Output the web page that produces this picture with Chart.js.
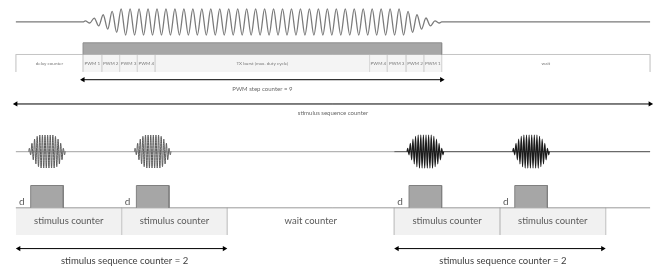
<!DOCTYPE html>
<html>
<head>
<meta charset="utf-8">
<script src="https://cdn.jsdelivr.net/npm/chart.js@4.4.0/dist/chart.umd.min.js"></script>
<style>
    html, body { margin: 0; padding: 0; background: #fff; }
    #wrap { width: 663px; height: 272px; }
</style>
</head>
<body>
<div id="wrap"><canvas id="c"></canvas></div>
<script>
// ---- data: time positions along the diagram ----
const lineStart = 12
const lineEnd = 654
const txCellEdges = [12, 80, 99, 117, 135, 153, 370, 388, 407, 425, 443, 654]
const txCellLabels = ['delay counter', 'PWM 1', 'PWM 2', 'PWM 3', 'PWM 4',
    'TX burst (max. duty cycle)', 'PWM 4', 'PWM 3', 'PWM 2', 'PWM 1', 'wait']
// relative amplitude of every cycle of the long TX burst
const txEnvelope = [
    0.08, 0.3, 0.55, 0.8,
    1, 1, 1, 1, 1, 1, 1, 1, 1, 1, 1, 1, 1, 1, 1, 1,
    1, 1, 1, 1, 1, 1, 1, 1, 1, 1, 1, 1, 1, 1, 1, 1,
    0.8, 0.55, 0.3, 0.08,
]
const pwmStepCounter = 9

const stimStarts = [12, 119, 395, 502]
const stimLength = 107
const stimDelay = 15
const pulseLength = 33
// relative amplitude of every cycle of one stimulus burst
const stimEnvelope = [0.2, 0.5, 0.75, 0.92, 1, 1, 1, 1, 1, 1, 0.92, 0.75, 0.5, 0.2]
const sequenceCounter = 2
const sequenceStarts = [12, 395] // each sequence = 2 stimuli

// ---- layout rows (diagram y, top = 0) ----
const ROW = {
    waveMid: 18.5, waveAmp: 13.5,
    barTop: 40, tableTop: 52, tableBottom: 70,
    pwmArrow: 78, pwmLabel: 88,
    seqArrow: 103, seqLabel: 112,
    burstMid: 152, burstAmp: 17,
    pulseTop: 187, stimTop: 210, stimBottom: 238,
    stimArrow: 252, stimLabel: 265,
}

function wavePoints(x0, x1, env, mid, amp) {
    const pts = []
    const per = (x1 - x0) / env.length
    env.forEach((a, i) => {
        pts.push({ x: x0 + (i + 0.25) * per, y: mid - amp * a })
        pts.push({ x: x0 + (i + 0.75) * per, y: mid + amp * a })
    })
    return pts
}

const line = (data, color, width = 1, extra = {}) => ({
    data, borderColor: color, borderWidth: width, pointRadius: 0,
    tension: 0, fill: false, clip: false, ...extra,
})

// outlined box sitting on `base`, filled down to it
const box = (x0, x1, top, base, fillColor, edge, width = 1) => line(
    [{ x: x0, y: base }, { x: x0, y: top }, { x: x1, y: top }, { x: x1, y: base }],
    edge, width, { fill: { value: base }, backgroundColor: fillColor })

const arrow = (x0, x1, y) => line([{ x: x0, y }, { x: x1, y }], '#000', 1, {
    pointRadius: 3, pointStyle: 'triangle', pointRotation: [270, 90],
    pointBackgroundColor: '#000', pointBorderWidth: 0,
})

// separators as one broken line
const separators = (edges, y0, y1) => {
    const pts = []
    edges.forEach(e => pts.push({ x: e, y: y0 }, { x: e, y: y1 }, { x: e, y: null }))
    return pts
}

const txStart = txCellEdges[1]
const txEnd = txCellEdges[txCellEdges.length - 2]

const datasets = []

// top TX waveform
datasets.push(line([
    { x: lineStart, y: ROW.waveMid },
    { x: txStart, y: ROW.waveMid },
    ...wavePoints(txStart, txEnd, txEnvelope, ROW.waveMid, ROW.waveAmp),
    { x: txEnd, y: ROW.waveMid },
    { x: lineEnd, y: ROW.waveMid },
], '#7a7a7a', 1.3, { cubicInterpolationMode: 'monotone' }))

// arrows
datasets.push(arrow(txStart, txEnd, ROW.pwmArrow))
datasets.push(arrow(lineStart, lineEnd, ROW.seqArrow))
sequenceStarts.forEach(s => datasets.push(arrow(s + 3, s + stimLength * sequenceCounter - 3, ROW.stimArrow)))

// stimulus bursts
stimStarts.forEach((s, i) => {
    const p0 = s + stimDelay - 2
    const p1 = s + stimDelay + pulseLength + 2
    const dark = i >= sequenceCounter
    datasets.push(line([
        { x: p0, y: ROW.burstMid },
        ...wavePoints(p0, p1, stimEnvelope, ROW.burstMid, ROW.burstAmp),
        { x: p1, y: ROW.burstMid },
    ], dark ? '#1c1c1c' : '#5a5a5a', dark ? 1.2 : 1, { cubicInterpolationMode: 'monotone' }))
})

// pulses (d = delay before each)
stimStarts.forEach(s => datasets.push(
    box(s + stimDelay, s + stimDelay + pulseLength, ROW.pulseTop, ROW.stimTop, '#a6a6a6', '#808080')))

// baselines of the stimulus rows
datasets.push(line([{ x: sequenceStarts[1], y: ROW.burstMid }, { x: lineEnd, y: ROW.burstMid }], '#6a6a6a', 1.3))
datasets.push(line([{ x: lineStart, y: ROW.burstMid }, { x: sequenceStarts[1], y: ROW.burstMid }], '#b4b4b4', 1.3))
datasets.push(line([{ x: lineStart, y: ROW.stimTop }, { x: lineEnd, y: ROW.stimTop }], '#9a9a9a', 1))

// stimulus counter cells
const stimEdges = []
stimStarts.forEach(s => stimEdges.push(s, s + stimLength))
datasets.push(line(separators(stimEdges.slice(1), ROW.stimTop, ROW.stimBottom), '#cfcfcf', 1))
stimStarts.forEach(s => datasets.push(
    line([{ x: s, y: ROW.stimTop }, { x: s + stimLength, y: ROW.stimTop }], 'rgba(0,0,0,0)', 0,
        { fill: { value: ROW.stimBottom }, backgroundColor: '#f1f1f1' })))

// top table
datasets.push(box(txStart, txEnd, ROW.barTop, ROW.tableTop, '#a6a6a6', '#8e8e8e'))
datasets.push(line([{ x: lineStart, y: ROW.tableTop }, { x: lineEnd, y: ROW.tableTop }], '#c4c4c4', 1))
datasets.push(line(separators(txCellEdges, ROW.tableTop, ROW.tableBottom), '#dadada', 1))
datasets.push(line([{ x: txStart, y: ROW.tableTop }, { x: txEnd, y: ROW.tableTop }], 'rgba(0,0,0,0)', 0,
    { fill: { value: ROW.tableBottom }, backgroundColor: '#f4f4f4' }))

// ---- texts, placed from the data above ----
const texts = []
txCellLabels.forEach((t, i) => texts.push({
    text: t, x: (txCellEdges[i] + txCellEdges[i + 1]) / 2, y: (ROW.tableTop + ROW.tableBottom) / 2,
    size: 4.6, color: '#7a7a7a',
}))
texts.push({ text: `PWM step counter = ${pwmStepCounter}`, x: (txStart + txEnd) / 2, y: ROW.pwmLabel, size: 6, color: '#6a6a6a' })
texts.push({ text: 'stimulus sequence counter', x: (lineStart + lineEnd) / 2, y: ROW.seqLabel, size: 6, color: '#6a6a6a' })
stimStarts.forEach(s => {
    texts.push({ text: 'stimulus counter', x: s + stimLength / 2, y: (ROW.stimTop + ROW.stimBottom) / 2, size: 9.5, color: '#595959' })
    texts.push({ text: 'd', x: s + stimDelay - 9, y: ROW.stimTop - 6, size: 10, color: '#595959' })
})
const waitFrom = stimStarts[1] + stimLength
texts.push({ text: 'wait counter', x: (waitFrom + stimStarts[2]) / 2, y: (ROW.stimTop + ROW.stimBottom) / 2, size: 9.5, color: '#595959' })
sequenceStarts.forEach(s => texts.push({
    text: `stimulus sequence counter = ${sequenceCounter}`, x: s + stimLength * sequenceCounter / 2 + 3,
    y: ROW.stimLabel, size: 9.5, color: '#404040',
}))

const textPlugin = {
    id: 'diagramTexts',
    afterDatasetsDraw(chart) {
        const { ctx, scales: { x, y } } = chart
        ctx.save()
        ctx.textAlign = 'center'
        ctx.textBaseline = 'middle'
        texts.forEach(t => {
            ctx.font = `${t.size}px Lato, "Open Sans", sans-serif`
            ctx.fillStyle = t.color
            ctx.fillText(t.text, x.getPixelForValue(t.x), y.getPixelForValue(t.y))
        })
        ctx.restore()
    },
}

new Chart(document.getElementById('c'), {
    type: 'line',
    data: { datasets },
    plugins: [textPlugin],
    options: {
        responsive: true,
        maintainAspectRatio: false,
        animation: false,
        spanGaps: false,
        layout: { padding: 0 },
        plugins: { legend: { display: false }, tooltip: { enabled: false } },
        scales: {
            x: { type: 'linear', min: 0, max: 663, display: false },
            y: { type: 'linear', min: 0, max: 272, reverse: true, display: false },
        },
    },
})
</script>
</body>
</html>
